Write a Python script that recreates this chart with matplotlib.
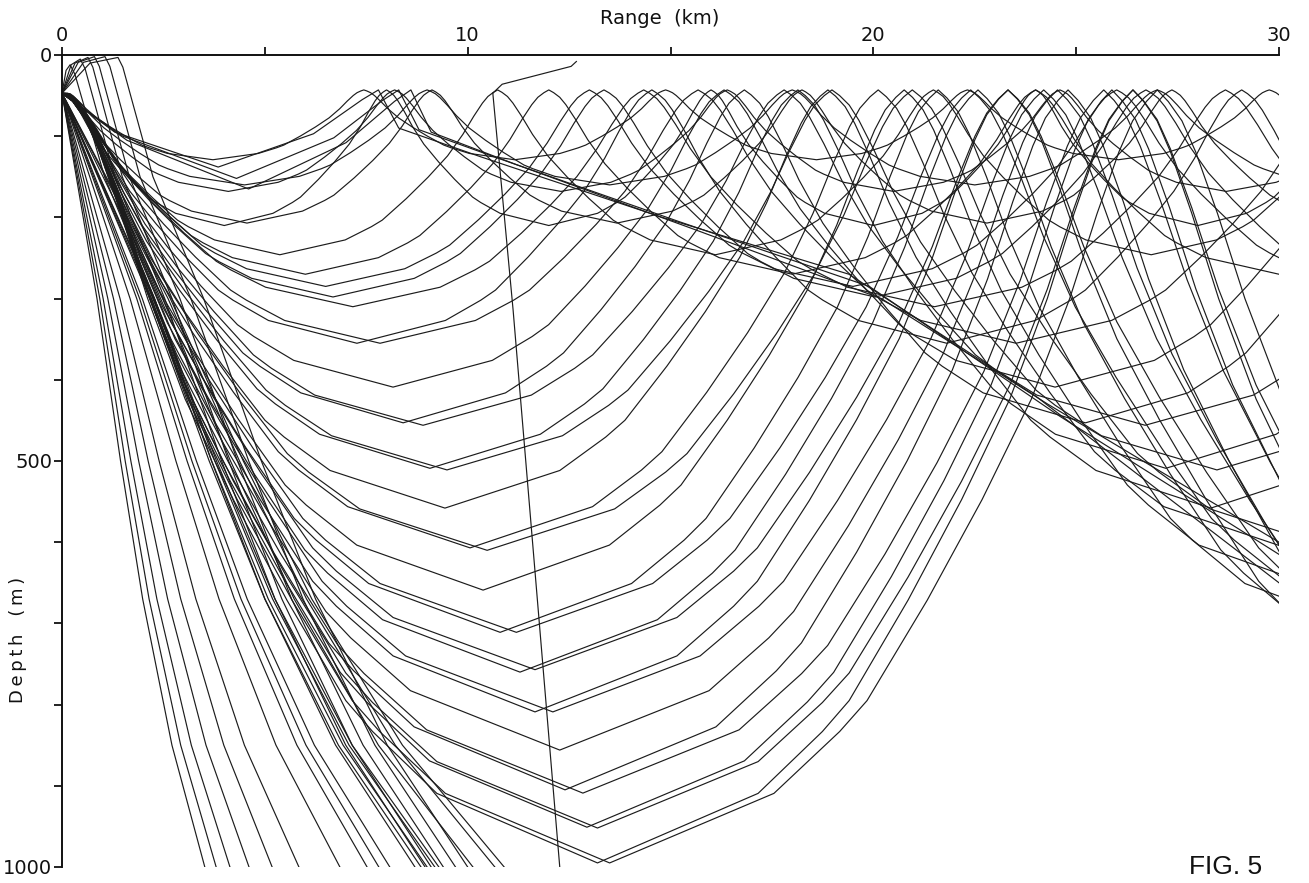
import numpy as np
import matplotlib
matplotlib.use("Agg")
import matplotlib.pyplot as plt

# ---------------- data (range in km, depth in m) ----------------
SOURCE_DEPTH = 47.0
TOP_DEPTH = 43.0

# normalised half-arch of a refracted ray, read off the outermost ray:
# relative height above the lower vertex -> fraction of the half-span
ARCH_U = [0.00, 0.09, 0.17, 0.21, 0.34, 0.47, 0.60, 0.73, 0.84, 0.92, 0.96, 0.985, 1.00]
ARCH_F = [0.00, 0.30, 0.42, 0.47, 0.58, 0.68, 0.77, 0.84, 0.89, 0.93, 0.955, 0.98, 1.00]

# lower turning points (vertices) of the refracted rays
V_RANGE = [3.72, 4.00, 4.10, 4.50, 4.56, 5.37, 6.00, 6.50, 6.68, 7.17, 7.27, 7.84,
           8.16, 8.41, 8.90, 9.07, 9.44, 9.49, 10.06, 10.38, 10.48, 10.80, 11.20,
           11.29, 11.66, 11.66, 12.10, 12.27, 12.40, 12.84, 12.94, 13.20, 13.20, 13.50]
V_DEPTH = [129, 210, 168, 160, 207, 246, 270, 285, 298, 310, 355, 355,
           409, 453, 456, 509, 558, 511, 607, 659, 610, 711, 711,
           760, 757, 809, 809, 856, 905, 909, 951, 952, 995, 995]

# steep rays that leave the plot through the 1000 m line
STEEP_LEVELS = [47, 150, 300, 500, 670, 850, 1000]
STEEP_FRAC = [0.0, 0.10, 0.245, 0.41, 0.565, 0.77, 1.0]
STEEP_BOTTOM = [3.52, 3.80, 4.14, 4.61, 5.18, 5.84, 6.85, 7.52, 7.81, 8.08,
                8.85, 9.00, 9.19, 9.29, 10.13, 10.67, 10.90]

# steep rays launched upward, turning just below the surface
UP_PEAK_RANGE = [0.20, 0.45, 0.64, 0.80, 1.06, 1.38]
UP_PEAK_DEPTH = [12, 5, 3, 2, 2, 3]
UP_BOTTOM = [8.70, 8.95, 9.10, 9.40, 9.70, 10.00]

# shallow rays that leave the duct after their first crest (long descending band)
BAND_RANGES = [
    [0.0, 1.3, 3.85, 6.2, 7.4, 7.8, 8.3, 10.3, 14.8, 19.4, 24.0, 30.0],
    [0.0, 1.5, 4.30, 6.7, 7.9, 8.3, 8.8, 10.8, 15.2, 19.9, 24.6, 30.0],
    [0.0, 1.6, 4.60, 7.0, 8.2, 8.6, 9.1, 11.2, 15.6, 20.2, 24.3, 30.0],
]
BAND_DEPTHS = [
    [47, 95, 138, 97, 55, 43, 90, 125, 200, 270, 420, 650],
    [47, 100, 152, 102, 56, 43, 92, 128, 205, 285, 445, 615],
    [47, 105, 165, 108, 57, 43, 95, 135, 215, 300, 430, 600],
]

# the two odd branches near 11 km
ODD_UP_RANGE = [10.62, 10.85, 12.55, 12.68]
ODD_UP_DEPTH = [47, 36, 14, 8]
ODD_DOWN_RANGE = [10.62, 11.12, 12.27]
ODD_DOWN_DEPTH = [47, 314, 1000]

X_TICKS = [0, 5, 10, 15, 20, 25, 30]
X_TICKLABELS = ["0", "", "10", "", "20", "", "30"]
Y_TICKS = list(range(0, 1001, 100))
Y_TICKLABELS = ["0", "", "", "", "", "500", "", "", "", "", "1000"]

# ---------------- drawing ----------------
W, Hpx = 1309, 883
fig = plt.figure(figsize=(W / 100, Hpx / 100), dpi=100)
ax = fig.add_axes([62 / W, 1 - 867 / Hpx, (1279 - 62) / W, (867 - 55) / Hpx])
ax.set_xlim(0, 30)
ax.set_ylim(1000, 0)

LC = "#1c1c1c"
LW = 0.85

u = np.array(ARCH_U)
f = np.array(ARCH_F)


def refracted_ray(rv, dv):
    half = rv
    d = dv - u * (dv - TOP_DEPTH)
    xs = [0.0]
    ys = [SOURCE_DEPTH]
    xa = rv - half * f[::-1]
    ya = d[::-1]
    keep = ya > SOURCE_DEPTH
    xs += list(xa[keep])
    ys += list(ya[keep])
    v = rv
    while v < 31:
        xs += list(v + half * f[1:])
        ys += list(d[1:])
        p = v + half
        xs += list(p + half * (1 - f[::-1][1:]))
        ys += list(d[::-1][1:])
        v += 2 * half
    return xs, ys


for rv, dv in zip(V_RANGE, V_DEPTH):
    xs, ys = refracted_ray(rv, dv)
    ax.plot(xs, ys, color=LC, lw=LW)

for rb in STEEP_BOTTOM:
    ax.plot([rb * fr for fr in STEEP_FRAC], STEEP_LEVELS, color=LC, lw=LW)

for p, pdp, rb in zip(UP_PEAK_RANGE, UP_PEAK_DEPTH, UP_BOTTOM):
    xs = [0.0, 0.5 * p, p, p + 0.12]
    ys = [SOURCE_DEPTH, pdp + 7, pdp, pdp + 12]
    xs += [p + (rb - p) * fr for fr in STEEP_FRAC[1:]]
    ys += STEEP_LEVELS[1:]
    ax.plot(xs, ys, color=LC, lw=LW)

for br, bd in zip(BAND_RANGES, BAND_DEPTHS):
    ax.plot(br, bd, color=LC, lw=LW)

ax.plot(ODD_UP_RANGE, ODD_UP_DEPTH, color=LC, lw=LW)
ax.plot(ODD_DOWN_RANGE, ODD_DOWN_DEPTH, color=LC, lw=LW)

# axes styling
for s in ["right", "bottom"]:
    ax.spines[s].set_visible(False)
for s in ["top", "left"]:
    ax.spines[s].set_linewidth(1.4)
    ax.spines[s].set_color("#111111")

ax.xaxis.tick_top()
ax.set_xticks(X_TICKS)
ax.set_xticklabels(X_TICKLABELS)
ax.set_yticks(Y_TICKS)
ax.set_yticklabels(Y_TICKLABELS)
ax.tick_params(axis="both", direction="out", length=6, width=1.3,
               labelsize=14, pad=1, colors="#111111")

TS = "\u2009"
fig.text(660 / W, 1 - 19 / Hpx, "Range  (km)",
         ha="center", va="center", fontsize=14, color="#111111")
fig.text(18 / W, 1 - 640 / Hpx, TS.join("Depth") + "\u2003" + TS.join("(m)"),
         ha="center", va="center", rotation=90, fontsize=13, color="#111111")
fig.text(1226 / W, 1 - 867 / Hpx, "FIG. 5", ha="center", va="center",
         fontsize=19, color="#111111", family="Liberation Sans")

fig.savefig("out.png", dpi=100, facecolor="white")
